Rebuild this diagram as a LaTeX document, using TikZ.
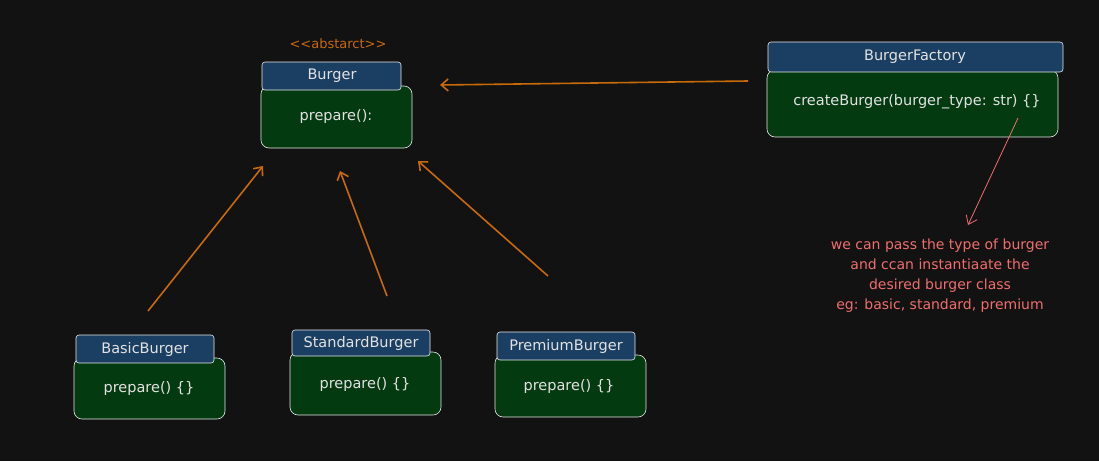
\documentclass[tikz,border=0pt]{standalone}
\usepackage{fontspec}
\setmainfont{DejaVu Sans}
\definecolor{bg}{HTML}{121212}
\definecolor{hdr}{HTML}{1B3F63}
\definecolor{bod}{HTML}{043A10}
\definecolor{org}{HTML}{C86A0A}
\definecolor{pnk}{HTML}{F06E6E}
\definecolor{txt}{HTML}{E2E2E2}
\tikzset{
 hbox/.style={draw=txt!80,fill=hdr,rounded corners=3pt,line width=0.6pt},
 bbox/.style={draw=txt!80,fill=bod,rounded corners=8pt,line width=0.6pt},
 lbl/.style={text=txt,font=\fontsize{14.5}{17}\selectfont},
 oarr/.style={draw=org,line width=1.6pt,-{Straight Barb[length=7pt,width=12pt]}},
}
\usetikzlibrary{arrows.meta}
\begin{document}
\begin{tikzpicture}[x=1pt,y=-1pt]
\fill[bg] (0,0) rectangle (1099,461);
\useasboundingbox (0,0) rectangle (1099,461);
% Burger
\node[text=org,font=\fontsize{13}{14}\selectfont] (abs) at (338,44) {<{}<abstarct>{}>};
\draw[bbox] (261,86) rectangle (412,148);
\node[lbl] (bb) at (336,117) {prepare():};
\draw[hbox] (262,62) rectangle (401,90);
\node[lbl] (bh) at (332,76) {Burger};
% Factory
\draw[bbox] (767,70) rectangle (1058,137);
\node[lbl] (fb) at (917,102) {createBurger(burger\_type: str) \{\}};
\draw[hbox] (768,42) rectangle (1063,72);
\node[lbl] (fh) at (915,57) {BurgerFactory};
% subclasses
\draw[bbox] (74,358) rectangle (225,419);
\node[lbl] (b1) at (149,388) {prepare() \{\}};
\draw[hbox] (76,335) rectangle (214,363);
\node[lbl] (h1) at (145,349) {BasicBurger};
\draw[bbox] (290,352) rectangle (441,415);
\node[lbl] (b2) at (365,384) {prepare() \{\}};
\draw[hbox] (292,330) rectangle (430,356);
\node[lbl] (h2) at (361,343) {StandardBurger};
\draw[bbox] (495,355) rectangle (646,417);
\node[lbl] (b3) at (569,386) {prepare() \{\}};
\draw[hbox] (497,332) rectangle (635,360);
\node[lbl] (h3) at (566,346) {PremiumBurger};
% arrows
\coordinate (s1) at (148,311); \coordinate (t1) at (263,166);
\coordinate (s2) at (387,296); \coordinate (t2) at (340,171);
\coordinate (s3) at (548,276); \coordinate (t3) at (418,161);
\coordinate (sf) at (748,81); \coordinate (tf) at (440,85);
\draw[oarr] (s1) -- (t1);
\draw[oarr] (s2) -- (t2);
\draw[oarr] (s3) -- (t3);
\draw[oarr] (sf) -- (tf);
\coordinate (sp) at (1018,118); \coordinate (tp) at (968,225);
\draw[pnk,line width=0.8pt,-{Straight Barb[length=8pt,width=12pt]}] (sp) -- (tp);
\node[text=pnk,align=center,font=\fontsize{14}{20}\selectfont] (note) at (940,276)
 {we can pass the type of burger\\and ccan instantiaate the\\desired burger class\\eg: basic, standard, premium};
\end{tikzpicture}
\end{document}
